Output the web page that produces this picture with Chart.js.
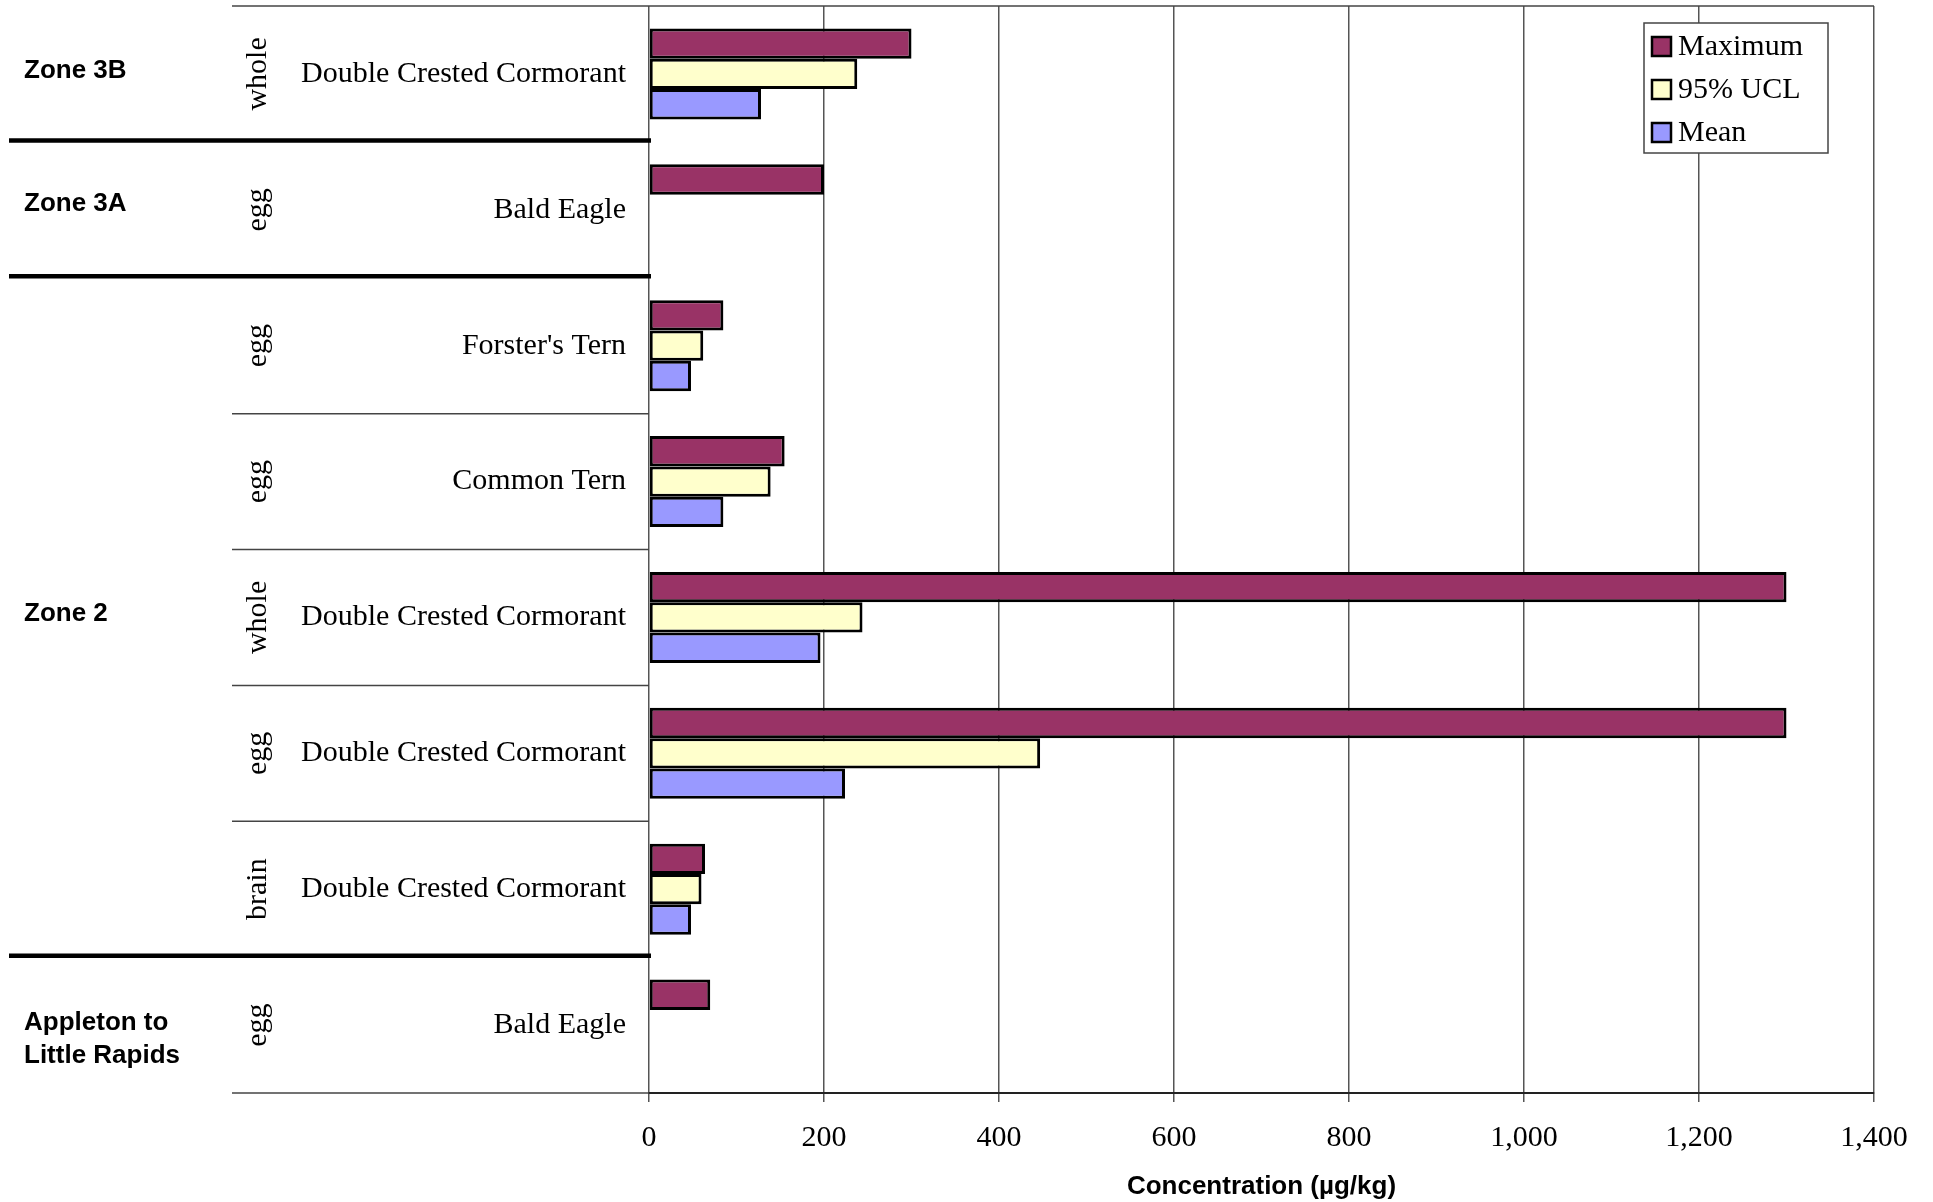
<!DOCTYPE html>
<html>
<head>
<meta charset="utf-8">
<script src="https://cdn.jsdelivr.net/npm/chart.js@4.4.1/dist/chart.umd.min.js"></script>
<style>
  html, body { margin: 0; padding: 0; background: #fff; }
  #wrap { width: 1933px; height: 1202px; }
</style>
</head>
<body>
<div id="wrap"><canvas id="chart" width="1933" height="1202"></canvas></div>
<script>
// rows, top to bottom
var zoneOf = ["Zone 3B", "Zone 3A", "Zone 2", "Zone 2", "Zone 2", "Zone 2", "Zone 2", "Appleton to|Little Rapids"];
var tissues = ["whole", "egg", "egg", "egg", "whole", "egg", "brain", "egg"];
var species = ["Double Crested Cormorant", "Bald Eagle", "Forster's Tern", "Common Tern",
  "Double Crested Cormorant", "Double Crested Cormorant", "Double Crested Cormorant", "Bald Eagle"];

// concentrations (ug/kg)
var maxValues = [300, 200, 85, 155, 1300, 1300, 64, 70];
var uclValues = [238, null, 62, 139, 244, 447, 60, null];
var meanValues = [128, null, 48, 85, 196, 224, 48, null];

var xTickValues = [0, 200, 400, 600, 800, 1000, 1200, 1400];

var SERIF = '"Liberation Serif", "Times New Roman", serif';
var SANS = '"Liberation Sans", Arial, sans-serif';

function line(ctx, x1, y1, x2, y2, w, color) {
  ctx.beginPath();
  ctx.lineWidth = w;
  ctx.strokeStyle = color;
  ctx.moveTo(x1, y1);
  ctx.lineTo(x2, y2);
  ctx.stroke();
}

// little nudges so the zone text sits where the original text boxes were
var zoneNudge = { "Zone 3B": -3, "Zone 3A": -6, "Zone 2": -4, "Appleton to|Little Rapids": 14 };

// draws the zone / tissue / species columns on the left
var sideLabels = {
  id: "sideLabels",
  afterDraw: function(chart) {
    var ctx = chart.ctx;
    var area = chart.chartArea;
    var n = species.length;
    var rowH = (area.bottom - area.top) / n;
    var rowTop = function(i) { return area.top + i * rowH; };

    ctx.save();
    line(ctx, 232, area.top, area.right, area.top, 1.5, "#444");
    for (var i = 1; i <= n; i++) {
      var y = rowTop(i);
      if (i < n && zoneOf[i] !== zoneOf[i - 1]) {
        line(ctx, 9, y - 1.5, area.left + 2, y - 1.5, 4.5, "#000");
      } else {
        line(ctx, 232, y, area.left, y, 1.5, "#444");
      }
    }

    // species + tissue
    ctx.fillStyle = "#000";
    ctx.font = "30px " + SERIF;
    ctx.textBaseline = "middle";
    for (var r = 0; r < n; r++) {
      var cy = rowTop(r) + rowH / 2;
      ctx.textAlign = "right";
      ctx.fillText(species[r], 626, cy);
      ctx.save();
      ctx.translate(258, cy);
      ctx.rotate(-Math.PI / 2);
      ctx.textAlign = "center";
      ctx.fillText(tissues[r], 0, 0);
      ctx.restore();
    }

    // zone labels, one per run of rows
    ctx.font = "bold 26px " + SANS;
    ctx.textAlign = "left";
    var start = 0;
    for (var k = 1; k <= n; k++) {
      if (k === n || zoneOf[k] !== zoneOf[start]) {
        var mid = (rowTop(start) + rowTop(k)) / 2 + (zoneNudge[zoneOf[start]] || 0);
        var parts = zoneOf[start].split("|");
        var lh = 33;
        for (var p = 0; p < parts.length; p++) {
          ctx.fillText(parts[p], 24, mid + (p - (parts.length - 1) / 2) * lh);
        }
        start = k;
      }
    }

    // legend box
    var ds = chart.data.datasets;
    var bx = area.right - 230, by = area.top + 17, bw = 184, bh = 130;
    ctx.fillStyle = "#fff";
    ctx.fillRect(bx, by, bw, bh);
    ctx.lineWidth = 1.5;
    ctx.strokeStyle = "#444";
    ctx.strokeRect(bx, by, bw, bh);
    ctx.font = "30px " + SERIF;
    ctx.textAlign = "left";
    ctx.textBaseline = "middle";
    for (var d = 0; d < ds.length; d++) {
      var iy = by + 23 + d * 43;
      ctx.fillStyle = ds[d].backgroundColor;
      ctx.fillRect(bx + 8, iy - 9, 19, 19);
      ctx.lineWidth = 2.5;
      ctx.strokeStyle = "#000";
      ctx.strokeRect(bx + 8, iy - 9, 19, 19);
      ctx.fillStyle = "#000";
      ctx.fillText(ds[d].label, bx + 34, iy + 1);
    }
    ctx.restore();
  }
};

var rowLabels = species.map(function(s, i) { return tissues[i] + " " + s; });

new Chart(document.getElementById("chart"), {
  type: "bar",
  data: {
    labels: rowLabels,
    datasets: [
      { label: "Maximum", data: maxValues, backgroundColor: "#993366" },
      { label: "95% UCL", data: uclValues, backgroundColor: "#FFFFCC" },
      { label: "Mean", data: meanValues, backgroundColor: "#9999FF" }
    ]
  },
  options: {
    indexAxis: "y",
    responsive: false,
    animation: false,
    layout: { padding: { left: 649, right: 59, top: 6, bottom: 0 } },
    datasets: {
      bar: {
        borderColor: "#000",
        borderWidth: 3,
        borderSkipped: false,
        barPercentage: 1,
        categoryPercentage: 0.67
      }
    },
    plugins: {
      legend: { display: false },
      tooltip: { enabled: false }
    },
    scales: {
      y: { display: false },
      x: {
        min: 0,
        max: 1400,
        afterBuildTicks: function(scale) {
          scale.ticks = xTickValues.map(function(v) { return { value: v }; });
        },
        afterFit: function(scale) { scale.height = 109; },
        grid: { color: "#555", lineWidth: 1.5, tickLength: 9 },
        border: { color: "#222", width: 2 },
        ticks: {
          color: "#000",
          padding: 18,
          maxRotation: 0,
          font: { family: SERIF, size: 30 },
          callback: function(v) { return v.toLocaleString("en-US"); }
        },
        title: {
          display: true,
          text: "Concentration (µg/kg)",
          color: "#000",
          padding: { top: 0, bottom: 0 },
          font: { family: SANS, size: 26, weight: "bold" }
        }
      }
    }
  },
  plugins: [sideLabels]
});
</script>
</body>
</html>
